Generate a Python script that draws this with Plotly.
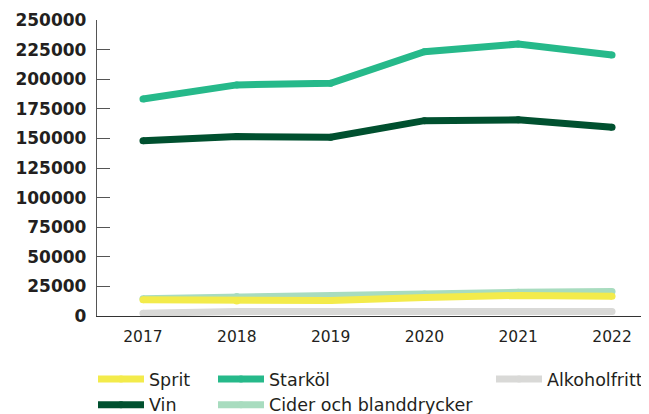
import plotly.graph_objects as go

years = [2017, 2018, 2019, 2020, 2021, 2022]
sprit = [13700, 12700, 13000, 15600, 17400, 16700]
vin = [148000, 151500, 151000, 165000, 165700, 159500]
starkol = [183300, 195200, 196600, 223200, 229700, 220400]
cider = [14600, 16400, 17000, 18600, 20000, 20600]
alkoholfritt = [2300, 3800, 3800, 3800, 3800, 3800]
y_ticks = [0, 25000, 50000, 75000, 100000, 125000, 150000, 175000, 200000, 225000, 250000]

LW = 7
series = [
    # name, values, color, legend, rank
    ("Alkoholfritt", alkoholfritt, "#D9D9D7", "legend3", 1),
    ("Cider och blanddrycker", cider, "#A8DCBF", "legend2", 2),
    ("Sprit", sprit, "#F3EB4B", "legend", 1),
    ("Vin", vin, "#00502F", "legend", 2),
    ("Starköl", starkol, "#26B98A", "legend2", 1),
]

fig = go.Figure()
for name, vals, col, leg, rank in series:
    fig.add_trace(go.Scatter(
        x=years, y=vals, name=name, mode="lines+markers",
        line=dict(color=col, width=LW),
        marker=dict(color=col, size=LW, line=dict(width=0)),
        legend=leg, legendrank=rank, hoverinfo="skip",
    ))

TXT = "#231F20"
leg_common = dict(
    orientation="v", xref="container", yref="container",
    xanchor="left", yanchor="top", bgcolor="rgba(0,0,0,0)",
    borderwidth=0, itemwidth=46, tracegroupgap=0,
    font=dict(family="DejaVu Sans", size=17.5, color=TXT),
)

# page body has an 8px margin: figure coordinates = screen - 8
LEG_TOP = 353
fig.update_layout(
    width=649, height=414,
    margin=dict(l=89, r=8, t=12, b=105.5, autoexpand=False),
    paper_bgcolor="white", plot_bgcolor="white",
    showlegend=True,
    legend=dict(x=85 / 649, y=1 - LEG_TOP / 414, **leg_common),
    legend2=dict(x=205 / 649, y=1 - LEG_TOP / 414, **leg_common),
    legend3=dict(x=483 / 649, y=1 - LEG_TOP / 414, **leg_common),
    xaxis=dict(
        range=[2016.51, 2022.394], tickvals=years, ticktext=[str(y) for y in years],
        showgrid=False, zeroline=False, showline=True, linecolor="#333333", linewidth=1.3,
        ticks="", ticklabelstandoff=6,
        tickfont=dict(family="DejaVu Sans", size=15.5, color=TXT),
    ),
    yaxis=dict(
        range=[0, 250000], tickvals=y_ticks, ticktext=[str(v) for v in y_ticks],
        showgrid=False, zeroline=False, showline=True, linecolor="#555555", linewidth=1.3,
        ticks="inside", ticklen=13, tickwidth=1.3, tickcolor="#555555",
        ticklabelstandoff=6,
        tickfont=dict(family="DejaVu Sans", size=17, color=TXT, weight="bold"),
    ),
)

fig.write_html("out.html")
